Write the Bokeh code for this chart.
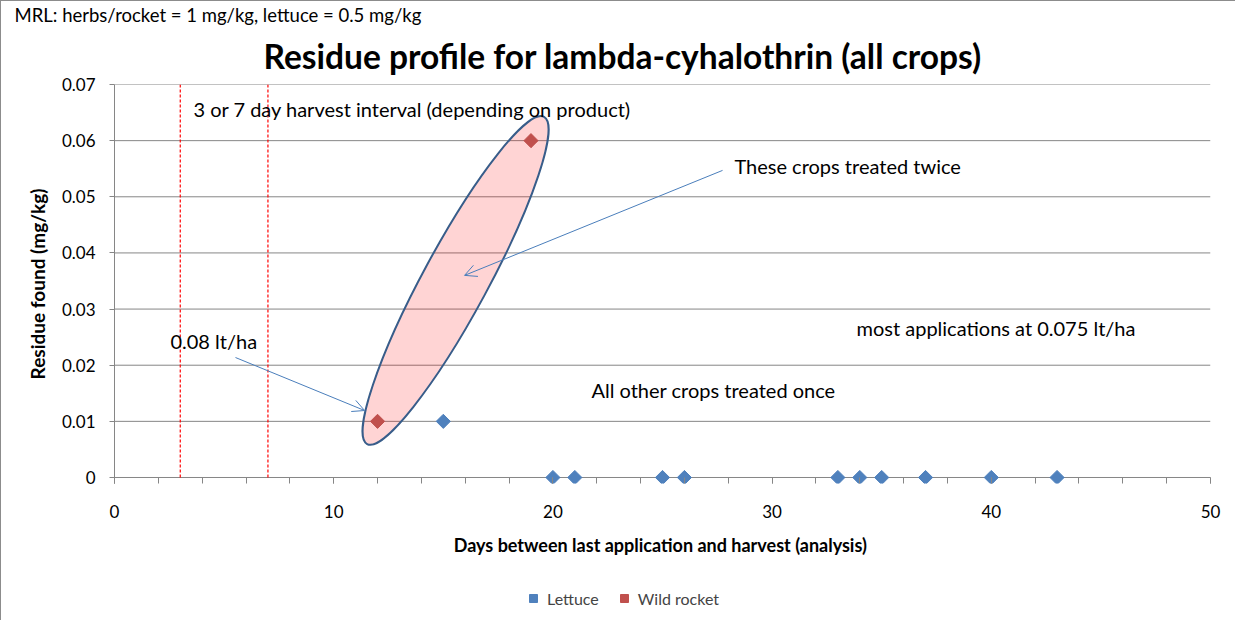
import numpy as np
from bokeh.plotting import figure
from bokeh.layouts import column
from bokeh.models import (Range1d, FixedTicker, LinearAxis, Label, Arrow, OpenHead,
                          Legend, LegendItem, Title)
from bokeh.embed import file_html
from bokeh.resources import INLINE

# ---- data ----
lettuce_days = [15, 20, 21, 25, 26, 33, 34, 35, 37, 40, 43]
lettuce_res = [0.01, 0, 0, 0, 0, 0, 0, 0, 0, 0, 0]
rocket_days = [12, 19]
rocket_res = [0.01, 0.06]
interval_days = [3, 7]
y_ticks = [0, 0.01, 0.02, 0.03, 0.04, 0.05, 0.06, 0.07]
y_tick_labels = ["0", "0.01", "0.02", "0.03", "0.04", "0.05", "0.06", "0.07"]
x_ticks = [0, 10, 20, 30, 40, 50]
x_minor_ticks = list(range(0, 51, 2))

FONT = "Lato"
GRID = "#868686"
BLUE = "#4f81bd"
RED = "#c0504d"
ARROW = "#4a7ebb"

p = figure(width=1235, height=585, output_backend="svg", toolbar_location=None,
           x_range=Range1d(0, 50), y_range=Range1d(-0.00107, 0.07),
           x_axis_type=None, y_axis_type=None,
           min_border_left=113, min_border_right=26, min_border_top=83, min_border_bottom=103)
p.outline_line_color = None
p.background_fill_color = "white"
p.border_fill_color = "white"
p.styles = {"border-left": "1px solid #8c8c8c", "border-top": "1px solid #8c8c8c"}

# titles (added closest-to-frame first)
p.add_layout(Title(text="Residue profile for lambda-cyhalothrin (all crops)", align="left",
                   offset=149, standoff=17, text_font=FONT, text_font_size="33.5px",
                   text_font_style="bold", text_color="#000000", text_line_height=0.9),
             "above")
p.add_layout(Title(text="MRL: herbs/rocket = 1 mg/kg, lettuce = 0.5 mg/kg", align="left",
                   offset=-100, standoff=0, text_font=FONT, text_font_size="18.5px",
                   text_font_style="normal", text_color="#000000"), "above")

# axes
xaxis = LinearAxis(ticker=FixedTicker(ticks=x_ticks, minor_ticks=x_minor_ticks))
xaxis.axis_label = "Days between last application  and harvest (analysis)"
yaxis = LinearAxis(ticker=FixedTicker(ticks=y_ticks))
yaxis.major_label_overrides = {t: l for t, l in zip(y_ticks, y_tick_labels)}
yaxis.axis_label = "Residue found (mg/kg)"
for ax in (xaxis, yaxis):
    ax.axis_line_color = GRID
    ax.major_tick_line_color = GRID
    ax.minor_tick_line_color = GRID
    ax.major_label_text_font = FONT
    ax.major_label_text_font_size = "17px"
    ax.major_label_text_color = "#000000"
    ax.axis_label_text_font = FONT
    ax.axis_label_text_font_style = "bold"
    ax.axis_label_text_color = "#000000"
xaxis.axis_line_color = None
xaxis.major_tick_in = 6
xaxis.major_tick_out = 0
xaxis.minor_tick_in = 6
xaxis.minor_tick_out = 0
xaxis.major_label_standoff = 21
xaxis.axis_label_standoff = 13
xaxis.axis_label_text_font_size = "18px"
yaxis.major_tick_in = 0
yaxis.major_tick_out = 5
yaxis.minor_tick_in = 0
yaxis.minor_tick_out = 0
yaxis.major_label_standoff = 14
yaxis.axis_label_standoff = 10
yaxis.axis_label_text_font_size = "19px"
p.add_layout(xaxis, "below")
p.add_layout(yaxis, "left")

# horizontal gridlines
p.segment(x0=[0] * len(y_ticks), x1=[50] * len(y_ticks), y0=y_ticks, y1=y_ticks,
          line_color=GRID, line_width=1)

# harvest interval lines
p.segment(x0=interval_days, x1=interval_days, y0=[0, 0], y1=[0.07, 0.07],
          line_color="#ff0000", line_width=1.2, line_dash="3 2")

# ellipse highlighting twice-treated crops
p.ellipse(x=[15.56], y=[0.0351], width=[372], height=[65], angle=[np.deg2rad(61.6)],
          width_units="screen", height_units="screen",
          fill_color="#ff0000", fill_alpha=0.17, line_color="#385d8a", line_width=2)

# arrows
p.add_layout(Arrow(x_start=27.74, y_start=0.0547, x_end=15.97, y_end=0.036,
                   line_color=ARROW, line_width=1,
                   end=OpenHead(size=12, line_color=ARROW, line_width=1)))
p.add_layout(Arrow(x_start=5.52, y_start=0.02137, x_end=11.41, y_end=0.01193,
                   line_color=ARROW, line_width=1,
                   end=OpenHead(size=12, line_color=ARROW, line_width=1)))

# markers
p.scatter(lettuce_days, lettuce_res, marker="square", angle=np.pi / 4, size=10,
          fill_color=BLUE, line_color=BLUE)
p.scatter(rocket_days, rocket_res, marker="square", angle=np.pi / 4, size=10,
          fill_color=RED, line_color=RED)

# labels inside the plot area
def lab(x, y, text, size="20px"):
    p.add_layout(Label(x=x, y=y, text=text, text_font=FONT, text_font_size=size,
                       text_align="left", text_baseline="middle", text_color="#000000"))

lab(3.6, 0.06555, "3 or 7 day harvest interval (depending on product)")
lab(28.28, 0.0554, "These crops treated twice")
lab(2.55, 0.0244, "0.08 lt/ha")
lab(33.85, 0.02654, "most applications at 0.075 lt/ha")
lab(21.76, 0.01567, "All other crops treated once")

# legend strip below the chart (same series, drawn out of its view)
lf = figure(width=1235, height=35, output_backend="svg", toolbar_location=None,
            x_range=Range1d(0, 50), y_range=Range1d(1, 2),
            x_axis_type=None, y_axis_type=None,
            min_border_left=0, min_border_right=0, min_border_top=0, min_border_bottom=0)
lf.outline_line_color = None
lf.xgrid.visible = False
lf.ygrid.visible = False
lf.styles = {"border-left": "1px solid #8c8c8c"}
l_let = lf.scatter(lettuce_days, lettuce_res, marker="square", angle=np.pi / 4, size=8,
                   fill_color=BLUE, line_color=BLUE)
l_roc = lf.scatter(rocket_days, rocket_res, marker="square", angle=np.pi / 4, size=8,
                   fill_color=RED, line_color=RED)
legend = Legend(items=[LegendItem(label="Lettuce", renderers=[l_let]),
                       LegendItem(label="Wild rocket", renderers=[l_roc])],
                orientation="horizontal", location=(409, 12),
                border_line_color=None, background_fill_alpha=0,
                padding=0, margin=0, spacing=15, label_standoff=4,
                glyph_width=20, glyph_height=20,
                label_text_font=FONT, label_text_font_size="16px")
lf.add_layout(legend, "center")

layout = column(p, lf, spacing=0)
open("out.html", "w").write(file_html(layout, INLINE))
